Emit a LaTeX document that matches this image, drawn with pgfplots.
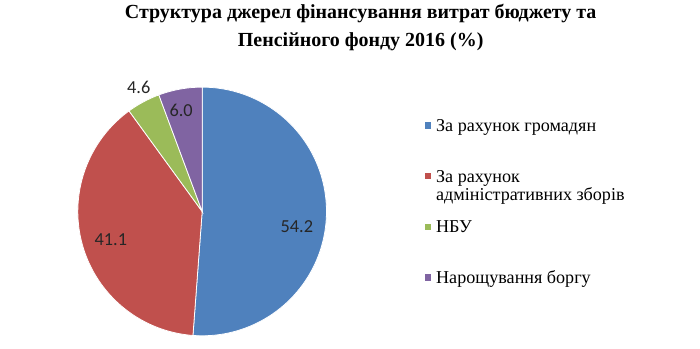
\documentclass[border=0pt]{standalone}
\usepackage{fontspec}
\setmainfont{Liberation Serif}
\newfontfamily\calibri{Carlito}
\usepackage{pgfplots}
\usepackage{pgfplotstable}
\pgfplotsset{compat=1.18}
\definecolor{cBlue}{HTML}{4F81BD}
\definecolor{cRed}{HTML}{C0504D}
\definecolor{cGreen}{HTML}{9BBB59}
\definecolor{cPurple}{HTML}{8064A2}

\pgfplotstableread{
name value
A 54.2
B 41.1
C 4.6
D 6.0
}\piedata

% data-label positions (axis units, radius = 1)
\pgfplotstableread{
x y label
0.762 -0.124 54.2
-0.734 -0.228 41.1
-0.510 0.998 4.6
-0.169 0.809 6.0
}\labeldata

\begin{document}
\pgfplotstablegetelem{0}{value}\of\piedata\let\va\pgfplotsretval
\pgfplotstablegetelem{1}{value}\of\piedata\let\vb\pgfplotsretval
\pgfplotstablegetelem{2}{value}\of\piedata\let\vc\pgfplotsretval
\pgfplotstablegetelem{3}{value}\of\piedata\let\vd\pgfplotsretval
\pgfmathsetmacro\total{\va+\vb+\vc+\vd}
\pgfmathsetmacro\aA{90}
\pgfmathsetmacro\aB{\aA-360*(\va/\total)}
\pgfmathsetmacro\aC{\aB-360*(\vb/\total)}
\pgfmathsetmacro\aD{\aC-360*(\vc/\total)}
\pgfmathsetmacro\aE{\aD-360*(\vd/\total)}
\begin{tikzpicture}
\useasboundingbox (0,0) rectangle (700pt,356pt);
\begin{axis}[
  at={(191.5pt,140pt)}, anchor=origin,
  x=127pt, y=127pt,
  xmin=-1, xmax=1, ymin=-1, ymax=1,
  hide axis, clip=false,
  title={Структура джерел фінансування витрат бюджету та\\Пенсійного фонду 2016 (\%)},
  title style={at={(axis cs:1.275,1.2835)}, anchor=base, align=center,
    font=\bfseries\fontsize{20.4}{28.5}\selectfont},
  legend style={at={(axis cs:1.7835,0.7425)}, anchor=north west,
    draw=none, fill=none, inner sep=0pt, row sep=39.1pt, column sep=4pt,
    font=\fontsize{18.5}{19}\selectfont,
    nodes={inner sep=0pt, text height=12.6pt, text depth=0pt}},
  legend cell align=left,
  legend image code/.code={\fill[#1] (0pt,-3.75pt) rectangle (7.5pt,3.75pt);},
]
\addplot[fill=cBlue, draw=white, line width=0.8pt, domain=\aA:\aB, samples=90, variable=\t]
  ({cos(\t)},{sin(\t)}) -- (axis cs:0,0) -- cycle;
\addlegendentry{За рахунок громадян}
\addplot[fill=cRed, draw=white, line width=0.8pt, domain=\aB:\aC, samples=90, variable=\t]
  ({cos(\t)},{sin(\t)}) -- (axis cs:0,0) -- cycle;
\addlegendentry{\begin{tabular}[t]{@{}l@{}}За рахунок\\адміністративних зборів\end{tabular}}
\addplot[fill=cGreen, draw=white, line width=0.8pt, domain=\aC:\aD, samples=20, variable=\t]
  ({cos(\t)},{sin(\t)}) -- (axis cs:0,0) -- cycle;
\addlegendentry{НБУ}
\addplot[fill=cPurple, draw=white, line width=0.8pt, domain=\aD:\aE, samples=20, variable=\t]
  ({cos(\t)},{sin(\t)}) -- (axis cs:0,0) -- cycle;
\addlegendentry{Нарощування боргу}
\addplot[draw=none, mark=none, nodes near coords, point meta=explicit symbolic,
  nodes near coords style={anchor=center, font=\calibri\fontsize{18.7}{20}\selectfont, text=black!85}]
  table[x=x, y=y, meta=label] {\labeldata};
\end{axis}
\end{tikzpicture}
\end{document}
